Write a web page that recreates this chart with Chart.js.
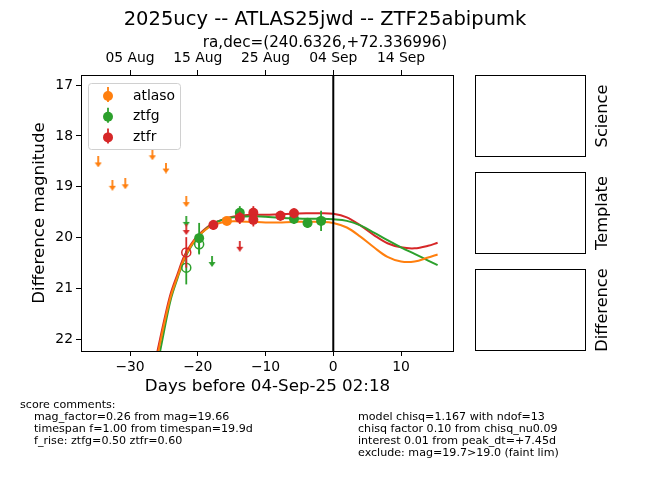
<!DOCTYPE html>
<html>
<head>
<meta charset="utf-8">
<script src="https://cdn.jsdelivr.net/npm/chart.js@4/dist/chart.umd.min.js"></script>
<style>
  body { margin: 0; background: #fff; font-family: "DejaVu Sans", sans-serif; }
  #wrap { position: relative; width: 650px; height: 500px; overflow: hidden; }
  #lc { position: absolute; left: 0; top: 0; }
  .t { position: absolute; white-space: pre; color: #000; line-height: 1; }
  .c { transform: translate(-50%, -50%); }
  .l { transform: translate(0, -50%); }
  .r { transform: translate(-50%, -50%) rotate(-90deg); }
  .box { position: absolute; border: 1px solid #000; box-sizing: border-box; }
  .cm { font-size: 11.1px; }
</style>
</head>
<body>
<div id="wrap">
  <canvas id="lc" width="650" height="500"></canvas>

  <div class="t c" style="left:325px; top:19px; font-size:19.5px;">2025ucy -- ATLAS25jwd -- ZTF25abipumk</div>
  <div class="t c" style="left:325px; top:43px; font-size:15.2px;">ra,dec=(240.6326,+72.336996)</div>

  <div class="box" style="left:475px; top:75px; width:111px; height:82px;"></div>
  <div class="box" style="left:475px; top:172px; width:111px; height:82px;"></div>
  <div class="box" style="left:475px; top:269px; width:111px; height:82px;"></div>
  <div class="t r" style="left:602px; top:116px; font-size:16.2px;">Science</div>
  <div class="t r" style="left:602px; top:213px; font-size:16.2px;">Template</div>
  <div class="t r" style="left:602px; top:310px; font-size:16.2px;">Difference</div>

  <div class="t l cm" style="left:20px; top:405px;">score comments:</div>
  <div class="t l cm" style="left:34px; top:417px;">mag_factor=0.26 from mag=19.66</div>
  <div class="t l cm" style="left:34px; top:429px;">timespan f=1.00 from timespan=19.9d</div>
  <div class="t l cm" style="left:34px; top:441px;">f_rise: ztfg=0.50 ztfr=0.60</div>

  <div class="t l cm" style="left:358px; top:417px;">model chisq=1.167 with ndof=13</div>
  <div class="t l cm" style="left:358px; top:429px;">chisq factor 0.10 from chisq_nu0.09</div>
  <div class="t l cm" style="left:358px; top:441px;">interest 0.01 from peak_dt=+7.45d</div>
  <div class="t l cm" style="left:358px; top:453px;">exclude: mag=19.7&gt;19.0 (faint lim)</div>
</div>

<script>
// light curve: days relative to 04-Sep-25 02:18, difference magnitudes

const FONT = '"DejaVu Sans", sans-serif';
const COLORS = { atlaso: '#ff7f0e', ztfg: '#2ca02c', ztfr: '#d62728' };

// atlaso
const atlasoDays = [-15.7];
const atlasoMags = [19.67];
const atlasoErrs = [0.05];
const atlasoUpDays = [-34.7, -32.6, -30.7, -26.7, -24.7, -21.7];
const atlasoUpMags = [18.51, 18.97, 18.94, 18.37, 18.63, 19.29];

// ztfg
const ztfgDays = [-19.8, -13.8, -5.8, -3.8, -1.8];
const ztfgMags = [20.01, 19.51, 19.63, 19.71, 19.67];
const ztfgErrs = [0.30, 0.13, 0.10, 0.10, 0.20];
const ztfgOpenDays = [-21.7, -19.8];
const ztfgOpenMags = [20.59, 20.13];
const ztfgOpenErrs = [0.33, 0.20];
const ztfgUpDays = [-21.7, -17.9];
const ztfgUpMags = [19.68, 20.47];

// ztfr
const ztfrDays = [-17.7, -13.8, -11.8, -11.8, -7.8, -5.8];
const ztfrMags = [19.75, 19.61, 19.51, 19.65, 19.57, 19.52];
const ztfrErrs = [0.10, 0.12, 0.13, 0.13, 0.10, 0.10];
const ztfrOpenDays = [-21.7];
const ztfrOpenMags = [20.29];
const ztfrOpenErrs = [0.30];
const ztfrUpDays = [-21.7, -13.8];
const ztfrUpMags = [19.84, 20.17];

const modelDays = [-26.3, -25, -24, -23, -22, -21, -20, -18, -16, -14, -12, -10, -8, -6, -4, -2, 0, 2, 4, 6, 8, 10, 12, 14, 15.4];
const atlasoModel = [22.55, 21.72, 21.16, 20.77, 20.41, 20.16, 19.98, 19.77, 19.69, 19.68, 19.69, 19.70, 19.70, 19.69, 19.69, 19.69, 19.71, 19.80, 19.98, 20.19, 20.38, 20.47, 20.47, 20.39, 20.33];
const ztfgModel   = [22.75, 21.85, 21.22, 20.80, 20.43, 20.18, 19.99, 19.75, 19.63, 19.59, 19.58, 19.59, 19.61, 19.62, 19.63, 19.63, 19.64, 19.67, 19.76, 19.90, 20.05, 20.19, 20.32, 20.45, 20.54];
const ztfrModel   = [22.45, 21.65, 21.10, 20.72, 20.36, 20.13, 19.96, 19.74, 19.63, 19.57, 19.55, 19.55, 19.54, 19.53, 19.52, 19.52, 19.53, 19.60, 19.76, 19.95, 20.11, 20.19, 20.21, 20.16, 20.10];

// axes
const dayRange = [-37.24, 17.82];
const dayTicks = [-30, -20, -10, 0, 10];
const dateTicks = ['05 Aug', '15 Aug', '25 Aug', '04 Sep', '14 Sep'];
const magRange = [16.80, 22.23];
const magTicks = [17, 18, 19, 20, 21, 22];
const peakDay = 0;

const legendNames = ['atlaso', 'ztfg', 'ztfr'];

function pts(xs, ys) {
  return xs.map((x, i) => ({ x, y: ys[i] }));
}

function arrowImage(color) {
  const c = document.createElement('canvas');
  c.width = 8; c.height = 11;
  const g = c.getContext('2d');
  g.strokeStyle = color; g.fillStyle = color; g.lineWidth = 1.8;
  g.beginPath(); g.moveTo(4, 0); g.lineTo(4, 7); g.stroke();
  g.beginPath(); g.moveTo(0.5, 6); g.lineTo(7.5, 6); g.lineTo(4, 11); g.closePath(); g.fill();
  return c;
}

function detections(name, xs, ys, errs, order) {
  return { label: name, data: pts(xs, ys), errs, order,
    pointRadius: 5, pointBackgroundColor: COLORS[name], pointBorderWidth: 0, pointBorderColor: COLORS[name] };
}
function openPoints(name, xs, ys, errs, order) {
  return { label: name + ' faint', data: pts(xs, ys), errs, order,
    pointRadius: 4.5, pointBackgroundColor: 'rgba(0,0,0,0)', pointBorderWidth: 1.5, pointBorderColor: COLORS[name] };
}
function upperLimits(name, xs, ys, order) {
  return { label: name + ' limit', data: pts(xs, ys), order,
    pointStyle: arrowImage(COLORS[name]), pointRadius: 5 };
}
function model(name, ys) {
  return { type: 'line', label: name + ' model', data: pts(modelDays, ys), order: 10,
    borderColor: COLORS[name], borderWidth: 2, pointRadius: 0, fill: false, tension: 0.35 };
}

const datasets = [
  model('atlaso', atlasoModel),
  model('ztfg', ztfgModel),
  model('ztfr', ztfrModel),
  upperLimits('atlaso', atlasoUpDays, atlasoUpMags, 6),
  upperLimits('ztfg', ztfgUpDays, ztfgUpMags, 5),
  upperLimits('ztfr', ztfrUpDays, ztfrUpMags, 4),
  detections('atlaso', atlasoDays, atlasoMags, atlasoErrs, 3),
  detections('ztfg', ztfgDays, ztfgMags, ztfgErrs, 2),
  openPoints('ztfg', ztfgOpenDays, ztfgOpenMags, ztfgOpenErrs, 2),
  detections('ztfr', ztfrDays, ztfrMags, ztfrErrs, 1),
  openPoints('ztfr', ztfrOpenDays, ztfrOpenMags, ztfrOpenErrs, 1),
];

// vertical error bars, drawn just under each dataset's markers
const errorBars = {
  id: 'errorBars',
  beforeDatasetDraw(chart, args) {
    const ds = chart.data.datasets[args.index];
    if (!ds.errs) return;
    const { x, y } = chart.scales;
    const ctx = chart.ctx;
    ctx.save();
    ctx.strokeStyle = ds.pointBorderColor;
    ctx.lineWidth = 1.8;
    ds.data.forEach((p, i) => {
      const px = x.getPixelForValue(p.x);
      ctx.beginPath();
      ctx.moveTo(px, y.getPixelForValue(p.y - ds.errs[i]));
      ctx.lineTo(px, y.getPixelForValue(p.y + ds.errs[i]));
      ctx.stroke();
    });
    ctx.restore();
  }
};

const peakLine = {
  id: 'peakLine',
  afterDatasetsDraw(chart) {
    const { ctx, chartArea } = chart;
    const px = chart.scales.x.getPixelForValue(peakDay);
    ctx.save();
    ctx.strokeStyle = '#000';
    ctx.lineWidth = 2;
    ctx.beginPath();
    ctx.moveTo(px, chartArea.top);
    ctx.lineTo(px, chartArea.bottom);
    ctx.stroke();
    ctx.restore();
  }
};

const frameAndLegend = {
  id: 'frameAndLegend',
  afterDraw(chart) {
    const { ctx, chartArea: a } = chart;
    ctx.save();
    ctx.strokeStyle = '#000';
    ctx.lineWidth = 1;
    ctx.strokeRect(Math.round(a.left) + 0.5, Math.round(a.top) + 0.5,
      Math.round(a.right - a.left) - 1, Math.round(a.bottom - a.top));

    // legend box, upper left
    const bx = a.left + 7, by = a.top + 8, bw = 92, bh = 66;
    ctx.beginPath();
    ctx.roundRect(bx + 0.5, by + 0.5, bw, bh, 3);
    ctx.fillStyle = 'rgba(255,255,255,0.8)';
    ctx.fill();
    ctx.strokeStyle = '#d0d0d0';
    ctx.stroke();

    ctx.font = '13.9px ' + FONT;
    ctx.textBaseline = 'middle';
    legendNames.forEach((name, i) => {
      const cy = by + 12 + i * 20.7;
      const mx = bx + 20;
      ctx.strokeStyle = COLORS[name];
      ctx.fillStyle = COLORS[name];
      ctx.lineWidth = 1.8;
      ctx.beginPath();
      ctx.moveTo(mx, cy - 8);
      ctx.lineTo(mx, cy + 7);
      ctx.stroke();
      ctx.beginPath();
      ctx.arc(mx, cy + 1, 5, 0, Math.PI * 2);
      ctx.fill();
      ctx.fillStyle = '#000';
      ctx.fillText(name, bx + 45, cy + 1);
    });
    ctx.restore();
  }
};

const tickFont = { family: FONT, size: 13.9 };
const labelFont = { family: FONT, size: 16.7 };
const tickMarks = { drawOnChartArea: false, drawTicks: true, tickLength: 5, color: '#000', lineWidth: 1 };

new Chart(document.getElementById('lc'), {
  type: 'scatter',
  data: { datasets },
  options: {
    responsive: false,
    animation: false,
    layout: { padding: { left: 0, right: 196, top: 0, bottom: 0 } },
    plugins: {
      legend: { display: false },
      tooltip: { enabled: false },
      title: { display: false }
    },
    scales: {
      x: {
        type: 'linear', position: 'bottom',
        min: dayRange[0], max: dayRange[1],
        afterBuildTicks: s => { s.ticks = dayTicks.map(v => ({ value: v })); },
        afterFit: s => { s.height = 149; },
        grid: tickMarks,
        border: { display: false },
        ticks: { font: tickFont, color: '#000', padding: 3, maxRotation: 0,
          callback: v => String(v).replace('-', '\u2212') },
        title: { display: true, text: 'Days before 04-Sep-25 02:18', font: labelFont, color: '#000',
          padding: { top: 0, bottom: 103 } }
      },
      x2: {
        type: 'linear', position: 'top',
        min: dayRange[0], max: dayRange[1],
        afterBuildTicks: s => { s.ticks = dayTicks.map(v => ({ value: v })); },
        afterFit: s => { s.height = 75; },
        grid: tickMarks,
        border: { display: false },
        ticks: { font: tickFont, color: '#000', padding: 3, maxRotation: 0,
          callback: v => dateTicks[dayTicks.indexOf(v)] }
      },
      y: {
        type: 'linear', position: 'left', reverse: true,
        min: magRange[0], max: magRange[1],
        afterBuildTicks: s => { s.ticks = magTicks.map(v => ({ value: v })); },
        afterFit: s => { s.width = 81; },
        grid: tickMarks,
        border: { display: false },
        ticks: { font: tickFont, color: '#000', padding: 3 },
        title: { display: true, text: 'Difference magnitude', font: labelFont, color: '#000',
          padding: { top: 30, bottom: 0 } }
      }
    }
  },
  plugins: [errorBars, peakLine, frameAndLegend]
});
</script>
</body>
</html>
